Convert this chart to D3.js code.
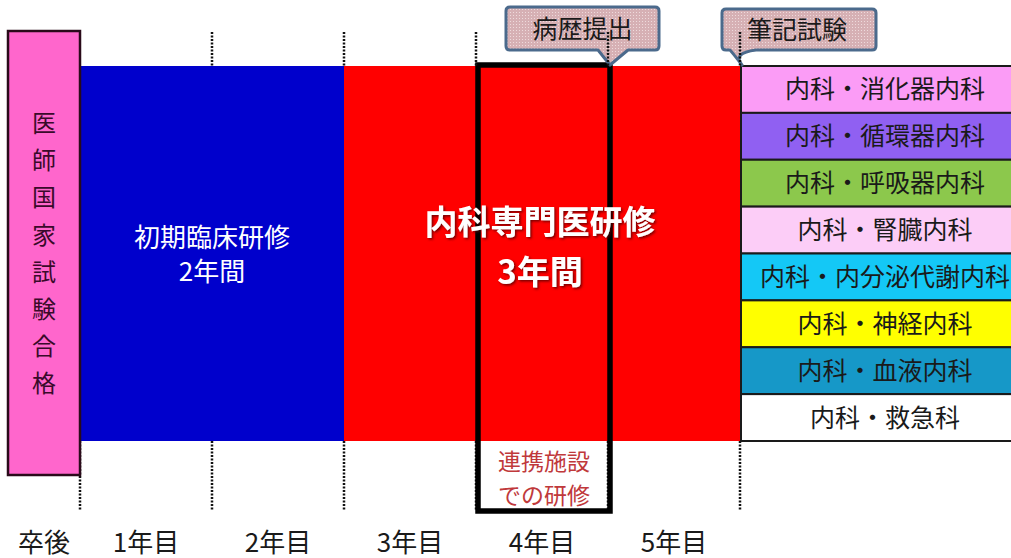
<!DOCTYPE html>
<html>
<head>
<meta charset="utf-8">
<script src="https://cdn.jsdelivr.net/npm/d3@7"></script>
<style>
  body { margin: 0; background: #fff; }
  svg { display: block; font-family: "Noto Sans CJK JP", "Noto Sans", sans-serif; }
</style>
</head>
<body>
<svg id="chart" width="1011" height="558"></svg>
<script>
// data
var yearLabels = ["1年目", "2年目", "3年目", "4年目", "5年目"];
var startLabel = "卒後";
var passLabel = "医師国家試験合格";

var phaseNames = ["初期臨床研修", "内科専門医研修"];
var phaseDurations = ["2年間", "3年間"];
var phaseStart = [0, 2];
var phaseEnd = [2, 5];
var phaseColors = ["#0000cc", "#ff0000"];

var rotationYear = [3, 4]; // 連携施設 box
var rotationText = ["連携施設", "での研修"];

var calloutTexts = ["病歴提出", "筆記試験"];
var calloutYears = [4, 5];

var specialties = ["内科・消化器内科", "内科・循環器内科", "内科・呼吸器内科", "内科・腎臓内科",
                   "内科・内分泌代謝内科", "内科・神経内科", "内科・血液内科", "内科・救急科"];
var specialtyColors = ["#fb9cf6", "#9060f2", "#8cc84c", "#fccdf7", "#14c8f6", "#ffff00", "#1698c8", "#ffffff"];

var svg = d3.select("#chart");

var x = d3.scaleLinear().domain([0, 5]).range([80, 740]);
var barTop = 66, barBottom = 441;
var rows = d3.scaleBand().domain(specialties).range([barTop, barBottom]);

// patterns / filters
var defs = svg.append("defs");
var pat = defs.append("pattern")
  .attr("id", "dots").attr("width", 3).attr("height", 3)
  .attr("patternUnits", "userSpaceOnUse");
pat.append("rect").attr("width", 3).attr("height", 3).attr("fill", "#d6b0b4");
pat.append("rect").attr("width", 1).attr("height", 1).attr("fill", "#eedadc");

var sh = defs.append("filter").attr("id", "shadow")
  .attr("x", "-10%").attr("y", "-20%").attr("width", "120%").attr("height", "140%");
sh.append("feDropShadow").attr("dx", 1.5).attr("dy", 1.5).attr("stdDeviation", 1)
  .attr("flood-color", "#500").attr("flood-opacity", 0.8);

// bottom dotted lines
svg.append("g").selectAll("line")
  .data(d3.range(0, 6))
  .enter().append("line")
  .attr("x1", function(d){ return x(d) })
  .attr("x2", function(d){ return x(d) })
  .attr("y1", barBottom)
  .attr("y2", 511)
  .attr("stroke", "#111")
  .attr("stroke-width", 2.5)
  .attr("stroke-dasharray", "2,1.5");

// phase bars
svg.append("g").selectAll("rect")
  .data(phaseNames)
  .enter().append("rect")
  .attr("x", function(d, i){ return x(phaseStart[i]) })
  .attr("width", function(d, i){ return x(phaseEnd[i]) - x(phaseStart[i]) })
  .attr("y", barTop)
  .attr("height", barBottom - barTop)
  .attr("fill", function(d, i){ return phaseColors[i] });

// pink pass box
svg.append("rect")
  .attr("x", 8).attr("y", 31)
  .attr("width", x(0) - 8).attr("height", 444)
  .attr("fill", "#ff66cc")
  .attr("stroke", "#2a0a1a")
  .attr("stroke-width", 2.5);

svg.append("g").selectAll("text")
  .data(passLabel.split(""))
  .enter().append("text")
  .text(function(d){ return d })
  .attr("x", 44)
  .attr("y", function(d, i){ return 132 + i * 37.2 })
  .attr("text-anchor", "middle")
  .attr("font-size", 24)
  .attr("fill", "#3a0a2a");

// specialty rows
var rowG = svg.append("g").selectAll("g")
  .data(specialties)
  .enter().append("g");

rowG.append("rect")
  .attr("x", x(5) + 1)
  .attr("y", function(d){ return rows(d) })
  .attr("width", 300)
  .attr("height", rows.bandwidth())
  .attr("fill", function(d, i){ return specialtyColors[i] })
  .attr("stroke", "#1a1a1a")
  .attr("stroke-width", 2);

rowG.append("text")
  .text(function(d){ return d })
  .attr("x", 885)
  .attr("y", function(d){ return rows(d) + rows.bandwidth() / 2 + 9 })
  .attr("text-anchor", "middle")
  .attr("font-size", 25)
  .attr("fill", "#1a1a1a");

// rotation box (連携施設)
svg.append("rect")
  .attr("x", x(rotationYear[0]) + 2)
  .attr("y", 65)
  .attr("width", x(rotationYear[1]) - x(rotationYear[0]))
  .attr("height", 446)
  .attr("fill", "none")
  .attr("stroke", "#000")
  .attr("stroke-width", 5.5);

svg.append("g").selectAll("text")
  .data(rotationText)
  .enter().append("text")
  .text(function(d){ return d })
  .attr("x", (x(rotationYear[0]) + x(rotationYear[1])) / 2 + 2)
  .attr("y", function(d, i){ return 470 + i * 33.5 })
  .attr("text-anchor", "middle")
  .attr("font-size", 23)
  .attr("fill", "#c0393b");

// phase labels
svg.append("g").selectAll("text")
  .data(phaseNames)
  .enter().append("text")
  .text(function(d){ return d })
  .attr("x", function(d, i){ return i == 0 ? (x(0) + x(2)) / 2 : 540 })
  .attr("y", function(d, i){ return i == 0 ? 247 : 234 })
  .attr("text-anchor", "middle")
  .attr("font-size", function(d, i){ return i == 0 ? 26 : 33 })
  .attr("font-weight", function(d, i){ return i == 0 ? "normal" : "bold" })
  .attr("filter", function(d, i){ return i == 0 ? null : "url(#shadow)" })
  .attr("fill", "#fff");

svg.append("g").selectAll("text")
  .data(phaseDurations)
  .enter().append("text")
  .text(function(d){ return d })
  .attr("x", function(d, i){ return i == 0 ? (x(0) + x(2)) / 2 : 540 })
  .attr("y", function(d, i){ return i == 0 ? 281 : 284 })
  .attr("text-anchor", "middle")
  .attr("font-size", function(d, i){ return i == 0 ? 26 : 33 })
  .attr("font-weight", function(d, i){ return i == 0 ? "normal" : "bold" })
  .attr("filter", function(d, i){ return i == 0 ? null : "url(#shadow)" })
  .attr("fill", "#fff");

// callouts
function calloutPath(left, right, top, bottom, tailA, tailB, tipX, tipY, curved){
  var r = 4;
  var p = d3.path();
  p.moveTo(left + r, top);
  p.lineTo(right - r, top);
  p.quadraticCurveTo(right, top, right, top + r);
  p.lineTo(right, bottom - r);
  p.quadraticCurveTo(right, bottom, right - r, bottom);
  p.lineTo(tailB, bottom);
  if (curved) {
    p.quadraticCurveTo(tailA + 2, bottom + 3, tipX, tipY);
    p.quadraticCurveTo(tailA + 2, bottom + 2, tailA, bottom);
  } else {
    p.lineTo(tipX, tipY);
    p.lineTo(tailA, bottom);
  }
  p.lineTo(left + r, bottom);
  p.quadraticCurveTo(left, bottom, left, bottom - r);
  p.lineTo(left, top + r);
  p.quadraticCurveTo(left, top, left + r, top);
  p.closePath();
  return p.toString();
}

var calloutBox = [
  { left: 506, right: 659, top: 7, bottom: 50, a: 598, b: 628, curved: false },
  { left: 722, right: 876, top: 9, bottom: 50, a: 730, b: 756, curved: true }
];

var cg = svg.append("g").selectAll("g")
  .data(calloutTexts)
  .enter().append("g");

cg.append("path")
  .attr("d", function(d, i){
    var b = calloutBox[i];
    return calloutPath(b.left, b.right, b.top, b.bottom, b.a, b.b, x(calloutYears[i]) + 2, barTop - 1, b.curved);
  })
  .attr("fill", "url(#dots)")
  .attr("stroke", "#4b6a8c")
  .attr("stroke-width", 3)
  .attr("stroke-linejoin", "round");

cg.append("text")
  .text(function(d){ return d })
  .attr("x", function(d, i){ return (calloutBox[i].left + calloutBox[i].right) / 2 + (i == 0 ? 0 : -2) })
  .attr("y", function(d, i){ return (calloutBox[i].top + calloutBox[i].bottom) / 2 + 9 })
  .attr("text-anchor", "middle")
  .attr("font-size", 25)
  .attr("fill", "#1a1a1a");

// top dotted lines (over callouts)
svg.append("g").selectAll("line")
  .data(d3.range(1, 6))
  .enter().append("line")
  .attr("x1", function(d){ return x(d) })
  .attr("x2", function(d){ return x(d) })
  .attr("y1", 32)
  .attr("y2", barTop)
  .attr("stroke", "#111")
  .attr("stroke-width", 2.5)
  .attr("stroke-dasharray", "2,1.5");

// year labels
svg.append("text")
  .text(startLabel)
  .attr("x", 44).attr("y", 552)
  .attr("text-anchor", "middle")
  .attr("font-size", 26)
  .attr("fill", "#1a1a1a");

svg.append("g").selectAll("text")
  .data(yearLabels)
  .enter().append("text")
  .text(function(d){ return d })
  .attr("x", function(d, i){ return (x(i) + x(i + 1)) / 2 })
  .attr("y", 552)
  .attr("text-anchor", "middle")
  .attr("font-size", 26)
  .attr("fill", "#1a1a1a");
</script>
</body>
</html>
